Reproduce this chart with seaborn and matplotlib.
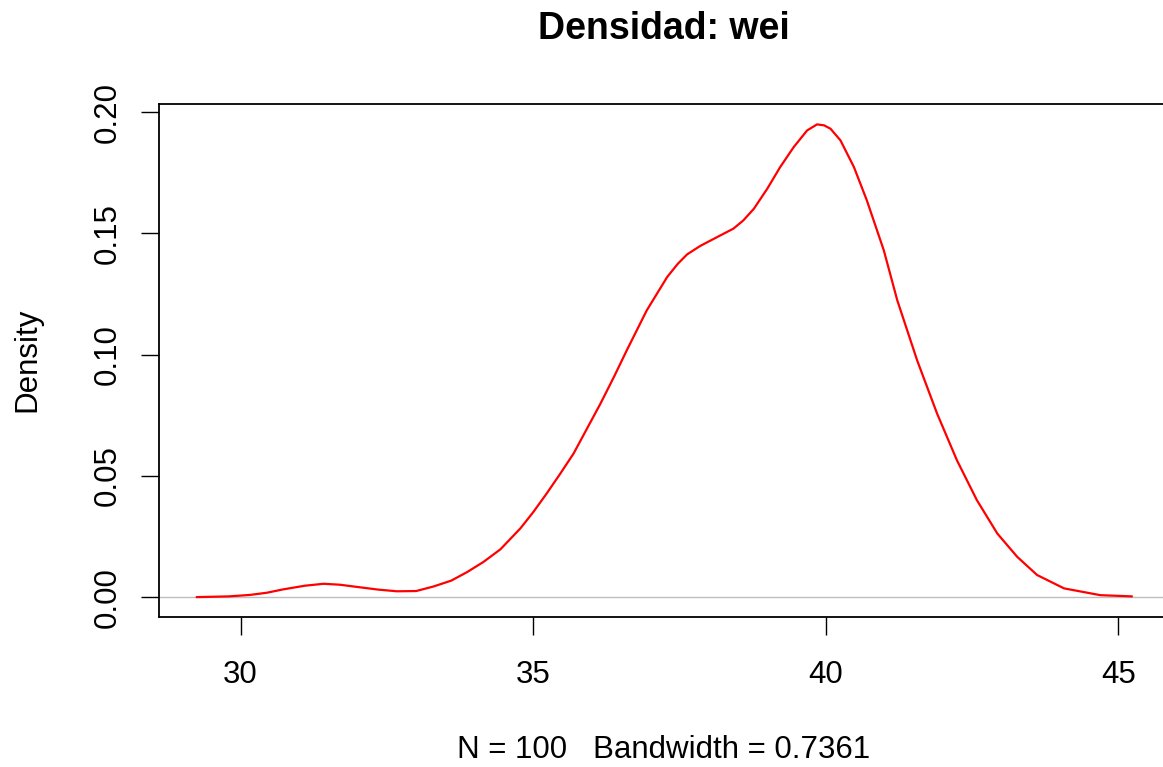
import matplotlib
matplotlib.use("Agg")
import matplotlib.pyplot as plt
import seaborn as sns
import pandas as pd

# Density curve
wei_x = [29.25, 29.8, 30.16, 30.45, 30.73, 31.1, 31.42, 31.7, 31.99, 32.35,
         32.67, 33.0, 33.3, 33.6, 33.87, 34.15, 34.44, 34.78, 35.0, 35.23,
         35.46, 35.69, 35.92, 36.15, 36.38, 36.6, 36.94, 37.29, 37.47, 37.63,
         37.855, 38.14, 38.42, 38.59, 38.77, 39.0, 39.22, 39.45, 39.68, 39.85,
         39.97, 40.08, 40.25, 40.48, 40.7, 40.99, 41.22, 41.56, 41.9, 42.24,
         42.58, 42.93, 43.27, 43.61, 44.07, 44.69, 45.23]
density_y = [0.0, 0.0003, 0.0009, 0.0018, 0.0032, 0.0047, 0.0055, 0.0051, 0.0042, 0.0031,
             0.0024, 0.0025, 0.0044, 0.0068, 0.0103, 0.0145, 0.0197, 0.0283, 0.035, 0.0427,
             0.0508, 0.0592, 0.0695, 0.0798, 0.0908, 0.1018, 0.1182, 0.132, 0.1374, 0.1413,
             0.1448, 0.1484, 0.1519, 0.1553, 0.1601, 0.1684, 0.1773, 0.1855, 0.1924, 0.1949,
             0.1945, 0.1931, 0.1883, 0.1773, 0.1636, 0.143, 0.1224, 0.0976, 0.0757, 0.0564,
             0.040, 0.0262, 0.0166, 0.0091, 0.0036, 0.0008, 0.0003]
x_ticks = [30, 35, 40, 45]
y_ticks = [0.00, 0.05, 0.10, 0.15, 0.20]
y_tick_labels = ["0.00", "0.05", "0.10", "0.15", "0.20"]
title = "Densidad: wei"
x_label = "N = 100   Bandwidth = 0.7361"
y_label = "Density"

df = pd.DataFrame({"x": wei_x, "y": density_y})

sns.set_theme(style="ticks")
plt.rcParams["font.family"] = ["Liberation Sans", "DejaVu Sans"]
plt.rcParams["text.color"] = "black"

fig = plt.figure(figsize=(11.63, 7.67), dpi=100)
ax = fig.add_axes([159 / 1163, 1 - 617 / 767, (1170 - 159) / 1163, (617 - 104) / 767])

ax.axhline(0, color="#BEBEBE", lw=1.0, zorder=1)
sns.lineplot(data=df, x="x", y="y", color="#FF0000", lw=1.6, ax=ax, zorder=2)

ax.set_xlim(28.607, 45.88)
ax.set_ylim(-0.0082, 0.2033)
ax.set_xticks(x_ticks)
ax.set_xticklabels([str(t) for t in x_ticks])
ax.set_yticks(y_ticks)
ax.set_yticklabels(y_tick_labels, rotation=90, va="center")

for s in ax.spines.values():
    s.set_visible(True)
    s.set_color("black")
    s.set_linewidth(1.3)

ax.tick_params(axis="both", direction="out", length=13, width=1.0, colors="black",
               labelsize=22.5)
ax.tick_params(axis="x", pad=18)
ax.tick_params(axis="y", pad=13)
ax.set_xlabel("")
ax.set_ylabel("")

fig.text(27 / 1163, 1 - 360 / 767, y_label, rotation=90, ha="center", va="center",
         fontsize=22.5, color="black")
fig.text(664 / 1163, 1 - 750 / 767, x_label, ha="center", va="center", fontsize=22.5,
         color="black")
fig.text(664 / 1163, 1 - 29 / 767, title, ha="center", va="center", fontsize=27,
         fontweight="bold", color="black")

fig.savefig("out.png", dpi=100)
